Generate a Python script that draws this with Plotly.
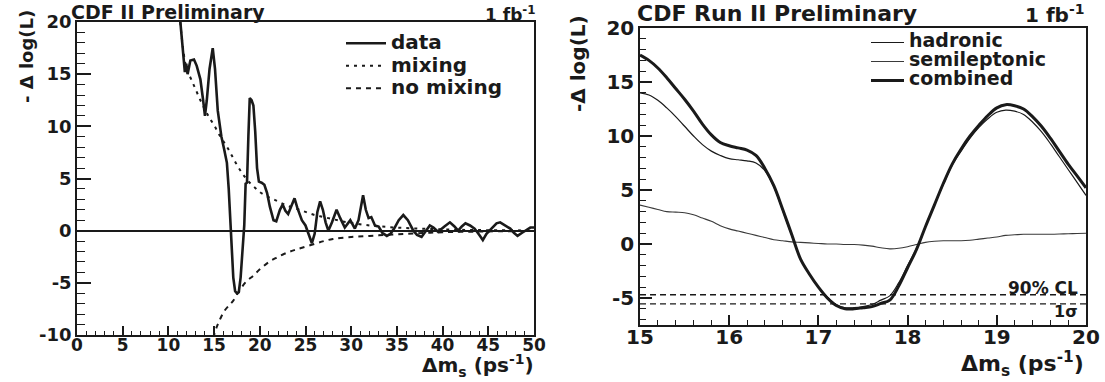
import plotly.graph_objects as go

# ---------------- Left panel data ----------------
data_x = [11.0, 11.3, 11.5, 11.8, 11.95, 12.1, 12.4, 12.8, 13.1, 13.5, 13.8, 14.0, 14.2, 14.5, 14.85,
          15.1, 15.4, 15.8, 16.1, 16.4, 16.6, 16.75, 16.9, 17.1, 17.3, 17.5, 17.7, 17.9, 18.1, 18.3,
          18.45, 18.6, 18.75, 18.9, 19.1, 19.3, 19.5, 19.7, 19.9, 20.2, 20.5, 20.8, 21.1, 21.5, 21.8,
          22.2, 22.5, 22.8, 23.1, 23.5, 23.8, 24.1, 24.6, 25.0, 25.3, 25.7, 26.0, 26.3, 26.6, 26.9,
          27.2, 27.5, 27.9, 28.4, 28.8, 29.3, 29.9, 30.4, 30.8, 31.3, 31.6, 31.9, 32.2, 32.6, 33.0,
          33.4, 33.9, 34.3, 34.7, 35.2, 35.7, 36.2, 36.8, 37.2, 37.7, 38.2, 38.6, 39.0, 39.5, 40.2,
          40.8, 41.3, 41.7, 42.1, 42.5, 43.0, 43.5, 44.0, 44.4, 44.8, 45.4, 45.9, 46.3, 46.8, 47.4,
          47.8, 48.2, 48.7, 49.2, 49.6, 50.0]
data_y = [23.0, 20.0, 18.5, 15.2, 16.0, 15.0, 16.3, 16.4, 15.8, 14.5, 12.5, 11.0, 12.5, 15.5, 17.5,
          15.5, 11.5, 9.0, 7.8, 6.5, 4.0, 1.0, -2.0, -4.5, -5.8, -6.0, -5.9, -4.5, -2.0, 0.5,
          4.5, 4.6, 9.0, 12.7, 12.5, 12.0, 9.5, 6.0, 4.7, 4.6, 4.4, 3.6, 2.3, 1.0, 0.9,
          2.0, 2.5, 1.9, 1.6, 2.5, 3.1, 2.2, 1.0, 0.5, -0.2, -1.2, -0.3, 1.8, 2.8, 2.0,
          0.8, 0.0, 0.8, 2.0, 1.2, 0.3, 1.0, 0.2, 1.0, 3.4, 2.0, 1.2, 1.3, 0.5, 0.4,
          -0.2, -0.5, -0.3, 0.2, 1.0, 1.5, 1.0, 0.0, -0.4, -0.6, 0.0, 0.5, 0.3, -0.1, 0.4,
          0.8, 0.4, 0.0, 0.4, 0.7, 0.5, 0.2, -0.4, -0.9, -0.3, 0.3, 0.7, 0.8, 0.5, 0.2,
          -0.2, -0.5, -0.2, 0.1, 0.3, 0.3]

mix_x = [11.3, 11.6, 12, 12.5, 13, 13.5, 14, 14.5, 15, 15.5, 16, 16.5, 17, 17.5, 18, 18.5, 19,
         19.5, 20, 21, 22, 23, 24, 25, 26, 27, 28, 29, 30, 32, 34, 36, 38, 40, 42, 45, 50]
mix_y = [20.0, 17.5, 15.5, 14.5, 13.5, 12.5, 11.6, 10.8, 10.1, 9.3, 8.6, 7.9, 7.1, 6.3, 5.6, 5.0, 4.5,
         4.1, 3.7, 3.2, 2.8, 2.4, 2.1, 1.8, 1.5, 1.3, 1.1, 0.9, 0.75, 0.5, 0.35, 0.25, 0.18, 0.12, 0.08, 0.05, 0.02]

nomix_x = [14.9, 15.3, 15.7, 16.2, 16.7, 17.1, 17.8, 18.5, 19.3, 20, 21, 21.8, 23, 24, 25.5, 27, 28, 30,
           32, 34, 36, 38, 40, 43, 46, 50]
nomix_y = [-10.3, -9.2, -8.4, -7.6, -7.1, -6.7, -5.7, -4.9, -4.3, -3.7, -3.0, -2.6, -2.1, -1.8, -1.4, -1.0, -0.8, -0.6,
           -0.5, -0.4, -0.3, -0.22, -0.15, -0.1, -0.06, -0.03]

# ---------------- Right panel data ----------------
r_x = [15.0, 15.1, 15.2, 15.3, 15.4, 15.5, 15.6, 15.7, 15.8, 15.9, 16.0, 16.1, 16.2, 16.3, 16.4, 16.5,
       16.6, 16.7, 16.8, 16.9, 17.0, 17.1, 17.2, 17.3, 17.4, 17.5, 17.6, 17.7, 17.8, 17.9, 18.0, 18.1,
       18.2, 18.3, 18.4, 18.5, 18.6, 18.7, 18.8, 18.9, 19.0, 19.1, 19.2, 19.3, 19.4, 19.5, 19.6, 19.7,
       19.8, 19.9, 20.0]
combined = [17.5, 17.0, 16.3, 15.4, 14.4, 13.4, 12.3, 11.1, 10.1, 9.4, 9.1, 8.9, 8.7, 8.2, 7.0, 5.4,
            3.2, 0.9, -1.4, -2.8, -4.0, -5.0, -5.7, -6.0, -6.0, -5.9, -5.8, -5.5, -5.2, -3.9, -2.2, -0.5,
            1.6, 3.6, 5.6, 7.4, 8.8, 10.0, 11.0, 11.9, 12.6, 12.9, 12.8, 12.5, 11.8, 10.9, 9.8, 8.6,
            7.4, 6.3, 5.2]
hadronic = [14.0, 13.8, 13.3, 12.6, 11.8, 10.9, 10.0, 9.2, 8.6, 8.2, 7.9, 7.8, 7.7, 7.5, 6.8, 5.3,
            3.1, 0.8, -1.4, -2.8, -4.0, -4.9, -5.6, -5.9, -5.9, -5.8, -5.6, -5.2, -4.8, -3.6, -2.0, -0.4,
            1.6, 3.6, 5.5, 7.3, 8.6, 9.8, 10.8, 11.6, 12.2, 12.4, 12.3, 12.0, 11.3, 10.4, 9.3, 8.1,
            6.9, 5.7, 4.5]
semilep = [3.6, 3.4, 3.2, 3.0, 2.95, 2.9, 2.7, 2.4, 2.1, 1.7, 1.4, 1.2, 1.0, 0.8, 0.6, 0.4,
           0.3, 0.2, 0.15, 0.1, 0.05, 0.0, 0.0, -0.05, -0.05, -0.1, -0.2, -0.35, -0.45, -0.4, -0.25, -0.05,
           0.15, 0.25, 0.3, 0.3, 0.3, 0.35, 0.45, 0.55, 0.65, 0.8, 0.85, 0.9, 0.9, 0.9, 0.9, 0.92,
           0.95, 0.97, 1.0]
cl_x = [15.0, 20.0]
cl90 = [-4.7, -4.7]
cl1s = [-5.55, -5.55]

left_xticks = [0, 5, 10, 15, 20, 25, 30, 35, 40, 45, 50]
left_xtext = ["0", "5", "10", "15", "20", "25", "30", "35", "40", "45", "50"]
left_yticks = [-10, -5, 0, 5, 10, 15, 20]
left_ytext = ["-10", "-5", "0", "5", "10", "15", "20"]
right_xticks = [15, 16, 17, 18, 19, 20]
right_xtext = ["15", "16", "17", "18", "19", "20"]
right_yticks = [-5, 0, 5, 10, 15, 20]
right_ytext = ["-5", "0", "5", "10", "15", "20"]

FONT = "DejaVu Sans"
INK = "#1a1a1a"
W, H = 1105, 382


def big(name, px):
    return '<span style="font-size:%dpx">%s</span>' % (px, name)


fig = go.Figure()

# Left traces
fig.add_trace(go.Scatter(x=data_x, y=data_y, mode="lines", name=big("data", 20),
                         line=dict(color=INK, width=2.6), xaxis="x", yaxis="y", legend="legend"))
fig.add_trace(go.Scatter(x=mix_x, y=mix_y, mode="lines", name=big("mixing", 20), line_shape="spline",
                         line=dict(color=INK, width=2, dash="3px,5px"), xaxis="x", yaxis="y", legend="legend"))
fig.add_trace(go.Scatter(x=nomix_x, y=nomix_y, mode="lines", name=big("no mixing", 20), line_shape="spline",
                         line=dict(color=INK, width=2, dash="5px,5px"), xaxis="x", yaxis="y", legend="legend"))

# Right traces
fig.add_trace(go.Scatter(x=r_x, y=hadronic, mode="lines", name=big("hadronic", 19), line_shape="spline",
                         line=dict(color=INK, width=1.2), xaxis="x2", yaxis="y2", legend="legend2"))
fig.add_trace(go.Scatter(x=r_x, y=semilep, mode="lines", name=big("semileptonic", 19), line_shape="spline",
                         line=dict(color="#3a3a3a", width=1.1), xaxis="x2", yaxis="y2", legend="legend2"))
fig.add_trace(go.Scatter(x=r_x, y=combined, mode="lines", name=big("combined", 19), line_shape="spline",
                         line=dict(color=INK, width=3), xaxis="x2", yaxis="y2", legend="legend2"))
fig.add_trace(go.Scatter(x=cl_x, y=cl90, mode="lines", showlegend=False,
                         line=dict(color=INK, width=1.3, dash="6px,4px"), xaxis="x2", yaxis="y2"))
fig.add_trace(go.Scatter(x=cl_x, y=cl1s, mode="lines", showlegend=False,
                         line=dict(color=INK, width=1.3, dash="6px,4px"), xaxis="x2", yaxis="y2"))


def axis_style(size):
    return dict(showline=True, linecolor=INK, linewidth=1.5, mirror=True, showgrid=False,
                automargin=False, ticks="inside", tickcolor=INK, tickwidth=1.5,
                tickfont=dict(family=FONT, size=size, color=INK, weight="bold"))


fig.update_layout(
    width=W, height=H,
    margin=dict(l=0, r=0, t=0, b=0, pad=0, autoexpand=False),
    paper_bgcolor="white", plot_bgcolor="white",
    xaxis=dict(domain=[77/W, 534/W], anchor="y", range=[0, 50], zeroline=False,
               tickvals=left_xticks, ticktext=left_xtext, ticklen=9, ticklabelstandoff=-6,
               minor=dict(dtick=1, tick0=0, ticks="inside", ticklen=4, tickcolor=INK, tickwidth=1.2),
               **axis_style(17)),
    yaxis=dict(domain=[(H-335)/H, (H-22)/H], anchor="x", range=[-10, 20],
               zeroline=True, zerolinecolor=INK, zerolinewidth=1.5,
               tickvals=left_yticks, ticktext=left_ytext, ticklen=14,
               minor=dict(dtick=1, tick0=0, ticks="inside", ticklen=8, tickcolor=INK, tickwidth=1.2),
               **axis_style(18)),
    xaxis2=dict(domain=[640/W, 1086/W], anchor="y2", range=[15, 20], zeroline=False,
                tickvals=right_xticks, ticktext=right_xtext, ticklen=10, ticklabelstandoff=-7,
                minor=dict(dtick=0.2, tick0=15, ticks="inside", ticklen=5, tickcolor=INK, tickwidth=1.2),
                **axis_style(20)),
    yaxis2=dict(domain=[(H-325)/H, (H-28)/H], anchor="x2", range=[-7.5, 20], zeroline=False,
                tickvals=right_yticks, ticktext=right_ytext, ticklen=12,
                minor=dict(dtick=1, tick0=0, ticks="inside", ticklen=6, tickcolor=INK, tickwidth=1.2),
                **axis_style(20)),
    legend=dict(x=341/W, y=1-27/H, xanchor="left", yanchor="top", bgcolor="rgba(0,0,0,0)",
                font=dict(family=FONT, size=15, color=INK, weight="bold"), itemwidth=40,
                tracegroupgap=0),
    legend2=dict(x=866/W, y=1-28/H, xanchor="left", yanchor="top", bgcolor="rgba(0,0,0,0)",
                 font=dict(family=FONT, size=12, color=INK, weight="bold"), itemwidth=33,
                 tracegroupgap=0),
)


def ann(text, x, y, size, xanchor="left", yanchor="middle", angle=0):
    fig.add_annotation(text=text, x=x / W, y=1 - y / H, xref="paper", yref="paper", showarrow=False,
                       xanchor=xanchor, yanchor=yanchor, textangle=angle,
                       font=dict(family=FONT, size=size, color=INK, weight="bold"))


ann("CDF II Preliminary", 69, 12, 19)
ann("1 fb<sup>-1</sup>", 538, 14, 17, xanchor="right")
ann("CDF Run II Preliminary", 635, 14, 22)
ann("1 fb<sup>-1</sup>", 1086, 14, 20, xanchor="right")
ann("- Δ log(L)", 26, 57, 18, xanchor="center", angle=-90)
ann("-Δ log(L)", 578, 64, 20, xanchor="center", angle=-90)
ann("Δm<sub>s</sub> (ps<sup>-1</sup>)", 536, 382, 20, xanchor="right", yanchor="bottom")
ann("Δm<sub>s</sub> (ps<sup>-1</sup>)", 1086, 382, 22, xanchor="right", yanchor="bottom")
ann("90% CL", 1080, 288, 17, xanchor="right")
ann("1σ", 1080, 311, 16, xanchor="right")

fig.write_html("out.html")
